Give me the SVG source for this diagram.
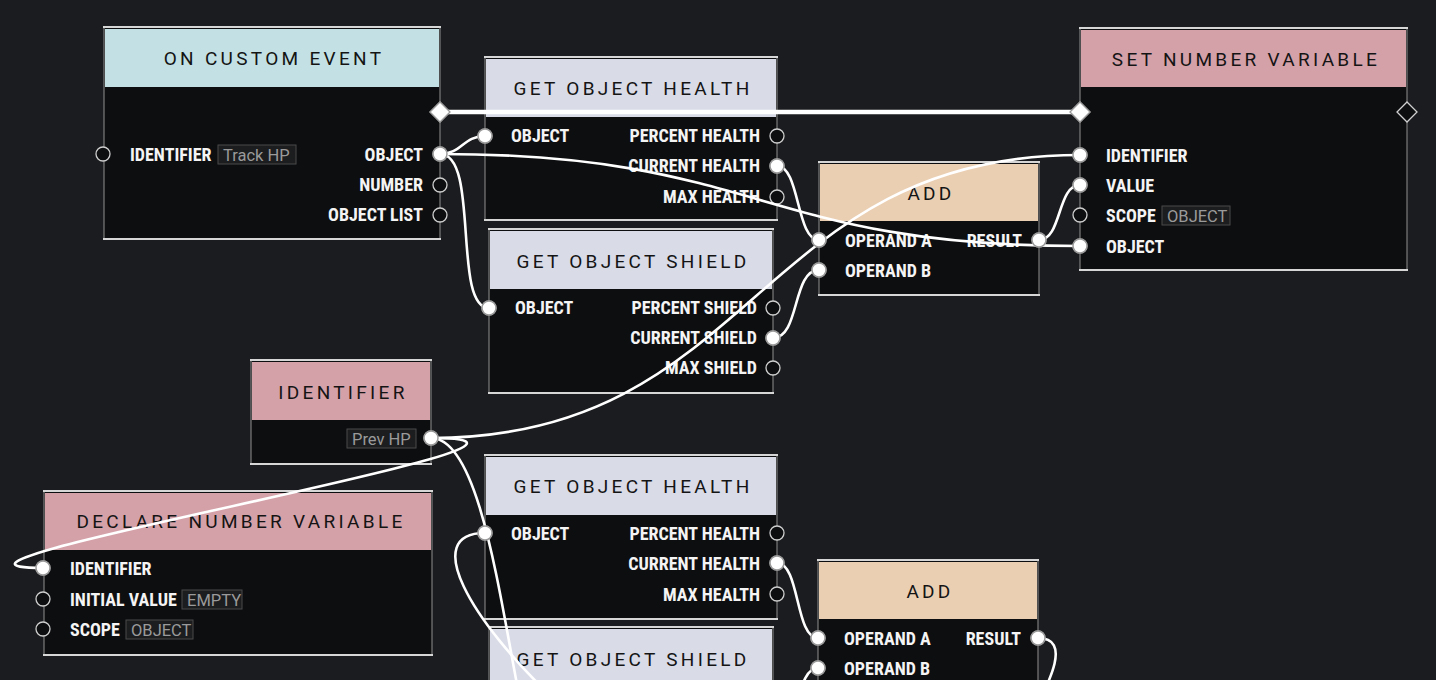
<svg xmlns="http://www.w3.org/2000/svg" width="1436" height="680" viewBox="0 0 1436 680">
<style>
.bg{fill:#1b1c1f}
.body{fill:#0d0e10;stroke:#7c7c7c;stroke-width:1.2}
.edge{stroke:#d6d6d6;stroke-width:2.2;fill:none}
.h-cyan{fill:#c3e1e4}
.h-lav{fill:#d9dbe7}
.h-peach{fill:#ebcfb3}
.h-pink{fill:#d4a1a9}
.title{font-family:"Roboto","Liberation Sans",sans-serif;font-weight:400;font-size:19px;letter-spacing:3.3px;fill:#141414;text-anchor:middle}
.lbl{font-family:"Liberation Sans Narrow","Roboto Condensed","Roboto",sans-serif;font-weight:700;font-size:18px;fill:#f4f4f4}
.r{text-anchor:end}
.val{font-family:"Liberation Sans Narrow","Roboto",sans-serif;font-size:16.5px;fill:#9a9a9a}
.vbox{fill:#1c1d1f;stroke:#4a4a4a;stroke-width:1}
.po{fill:#0d0e10;stroke:#cfcfcf;stroke-width:1.3}
.pf{fill:#ffffff;stroke:#9a9a9a;stroke-width:1.5}
.exo{fill:#0d0e10;stroke:#d0d0d0;stroke-width:1.3}
.exf{fill:#ffffff;stroke:#9a9a9a;stroke-width:1.3}
.wire{fill:none;stroke:#ffffff;stroke-width:2.6;stroke-linecap:round}
.wexec{fill:none;stroke:#ffffff;stroke-width:4.5}
</style>
<defs>
<path id="dia" d="M0,-10 L10,0 L0,10 L-10,0 Z"/>
</defs>
<rect class="bg" x="0" y="0" width="1436" height="680"/>

<g id="node-on-custom-event">
<rect class="body" x="104" y="27" width="336" height="212"/>
<rect class="h-cyan" x="105" y="29" width="334" height="58"/>
<path class="edge" d="M103,27 H441 M103,239 H441"/>
<text class="title" x="274" y="65">ON CUSTOM EVENT</text>
<use href="#dia" class="exf" x="440" y="112"/>
<circle class="po" cx="103" cy="154" r="7"/>
<text class="lbl" x="130" y="161">IDENTIFIER</text>
<rect class="vbox" x="218" y="145" width="78" height="19"/>
<text class="val" x="223" y="161">Track HP</text>
<text class="lbl r" x="423" y="161">OBJECT</text>
<text class="lbl r" x="423" y="191">NUMBER</text>
<text class="lbl r" x="423" y="221">OBJECT LIST</text>
<circle class="pf" cx="440" cy="154" r="7"/>
<circle class="po" cx="440" cy="185" r="7"/>
<circle class="po" cx="440" cy="215" r="7"/>
</g>

<g id="node-get-object-health-1">
<rect class="body" x="485" y="57" width="292" height="163"/>
<rect class="h-lav" x="486" y="59" width="290" height="58"/>
<path class="edge" d="M484,57 H778 M484,220 H778"/>
<text class="title" x="633" y="95">GET OBJECT HEALTH</text>
<text class="lbl" x="511" y="142">OBJECT</text>
<text class="lbl r" x="760" y="142">PERCENT HEALTH</text>
<text class="lbl r" x="760" y="172">CURRENT HEALTH</text>
<text class="lbl r" x="760" y="203">MAX HEALTH</text>
<circle class="pf" cx="485" cy="136" r="7"/>
<circle class="po" cx="777" cy="136" r="7"/>
<circle class="pf" cx="777" cy="166" r="7"/>
<circle class="po" cx="777" cy="197" r="7"/>
</g>

<g id="node-get-object-shield-1">
<rect class="body" x="489" y="229" width="284" height="164"/>
<rect class="h-lav" x="490" y="231" width="282" height="58"/>
<path class="edge" d="M488,229 H774 M488,393 H774"/>
<text class="title" x="633" y="268">GET OBJECT SHIELD</text>
<text class="lbl" x="515" y="314">OBJECT</text>
<text class="lbl r" x="757" y="314">PERCENT SHIELD</text>
<text class="lbl r" x="757" y="344">CURRENT SHIELD</text>
<text class="lbl r" x="757" y="374">MAX SHIELD</text>
<circle class="pf" cx="489" cy="308" r="7"/>
<circle class="po" cx="773" cy="308" r="7"/>
<circle class="pf" cx="773" cy="338" r="7"/>
<circle class="po" cx="773" cy="368" r="7"/>
</g>

<g id="node-add-1">
<rect class="body" x="819" y="162" width="220" height="133"/>
<rect class="h-peach" x="820" y="164" width="218" height="57"/>
<path class="edge" d="M818,162 H1040 M818,295 H1040"/>
<text class="title" x="931" y="200">ADD</text>
<text class="lbl" x="845" y="247">OPERAND A</text>
<text class="lbl" x="845" y="277">OPERAND B</text>
<text class="lbl r" x="1022" y="247">RESULT</text>
<circle class="pf" cx="819" cy="240" r="7"/>
<circle class="pf" cx="819" cy="270" r="7"/>
<circle class="pf" cx="1039" cy="240" r="7"/>
</g>

<g id="node-set-number-variable">
<rect class="body" x="1080" y="28" width="327" height="242"/>
<rect class="h-pink" x="1081" y="30" width="325" height="57"/>
<path class="edge" d="M1079,28 H1408 M1079,270 H1408"/>
<text class="title" x="1246" y="66">SET NUMBER VARIABLE</text>
<use href="#dia" class="exf" x="1080" y="112"/>
<use href="#dia" class="exo" x="1407" y="112"/>
<text class="lbl" x="1106" y="162">IDENTIFIER</text>
<text class="lbl" x="1106" y="192">VALUE</text>
<text class="lbl" x="1106" y="222">SCOPE</text>
<rect class="vbox" x="1162" y="206" width="68" height="19"/>
<text class="val" x="1167" y="222">OBJECT</text>
<text class="lbl" x="1106" y="253">OBJECT</text>
<circle class="pf" cx="1080" cy="155" r="7"/>
<circle class="pf" cx="1080" cy="185" r="7"/>
<circle class="po" cx="1080" cy="215" r="7"/>
<circle class="pf" cx="1080" cy="246" r="7"/>
</g>

<g id="node-identifier">
<rect class="body" x="251" y="360" width="180" height="104"/>
<rect class="h-pink" x="252" y="362" width="178" height="58"/>
<path class="edge" d="M250,360 H432 M250,464 H432"/>
<text class="title" x="343" y="399">IDENTIFIER</text>
<rect class="vbox" x="347" y="429" width="69" height="19"/>
<text class="val" x="352" y="445">Prev HP</text>
<circle class="pf" cx="431" cy="438" r="7"/>
</g>

<g id="node-declare-number-variable">
<rect class="body" x="44" y="491" width="388" height="164"/>
<rect class="h-pink" x="45" y="493" width="386" height="57"/>
<path class="edge" d="M43,491 H433 M43,655 H433"/>
<text class="title" x="241" y="528">DECLARE NUMBER VARIABLE</text>
<text class="lbl" x="70" y="575">IDENTIFIER</text>
<text class="lbl" x="70" y="606">INITIAL VALUE</text>
<rect class="vbox" x="182" y="590" width="60" height="19"/>
<text class="val" x="187" y="606">EMPTY</text>
<text class="lbl" x="70" y="636">SCOPE</text>
<rect class="vbox" x="126" y="620" width="67" height="19"/>
<text class="val" x="131" y="636">OBJECT</text>
<circle class="pf" cx="43" cy="568" r="7"/>
<circle class="po" cx="43" cy="599" r="7"/>
<circle class="po" cx="43" cy="629" r="7"/>
</g>

<g id="node-get-object-health-2">
<rect class="body" x="485" y="455" width="292" height="164"/>
<rect class="h-lav" x="486" y="457" width="290" height="58"/>
<path class="edge" d="M484,455 H778 M484,619 H778"/>
<text class="title" x="633" y="493">GET OBJECT HEALTH</text>
<text class="lbl" x="511" y="540">OBJECT</text>
<text class="lbl r" x="760" y="540">PERCENT HEALTH</text>
<text class="lbl r" x="760" y="570">CURRENT HEALTH</text>
<text class="lbl r" x="760" y="601">MAX HEALTH</text>
<circle class="pf" cx="485" cy="533" r="7"/>
<circle class="po" cx="777" cy="533" r="7"/>
<circle class="pf" cx="777" cy="563" r="7"/>
<circle class="po" cx="777" cy="594" r="7"/>
</g>

<g id="node-get-object-shield-2">
<rect class="body" x="489" y="627" width="284" height="120"/>
<rect class="h-lav" x="490" y="629" width="282" height="58"/>
<path class="edge" d="M488,627 H774"/>
<text class="title" x="633" y="666">GET OBJECT SHIELD</text>
</g>

<g id="node-add-2">
<rect class="body" x="818" y="560" width="220" height="140"/>
<rect class="h-peach" x="819" y="562" width="218" height="57"/>
<path class="edge" d="M817,560 H1039"/>
<text class="title" x="930" y="598">ADD</text>
<text class="lbl" x="844" y="645">OPERAND A</text>
<text class="lbl" x="844" y="675">OPERAND B</text>
<text class="lbl r" x="1021" y="645">RESULT</text>
<circle class="pf" cx="818" cy="638" r="7"/>
<circle class="pf" cx="818" cy="668" r="7"/>
<circle class="pf" cx="1038" cy="638" r="7"/>
</g>

<g id="connectors">
<path class="wexec" d="M448,112 H1072"/>
<path class="wire" d="M440,154 C462,154 463,136 485,136"/>
<path class="wire" d="M440,154 C480,154 452,308 489,308"/>
<path class="wire" d="M440,154 C760,154 760,246 1080,246"/>
<path class="wire" d="M777,166 C800,166 796,240 819,240"/>
<path class="wire" d="M773,338 C800,338 792,270 819,270"/>
<path class="wire" d="M1039,240 C1062,240 1057,185 1080,185"/>
<path class="wire" d="M431,438 C755,438 756,155 1080,155"/>
<path class="wire" d="M431,438 C640,438 -140,568 43,568"/>
<path class="wire" d="M431,438 C480,438 500,600 520,700"/>
<path class="wire" d="M485,533 C420,533 470,620 555,700"/>
<path class="wire" d="M777,563 C800,563 795,638 818,638"/>
<path class="wire" d="M773,736 C800,736 795,668 818,668"/>
<path class="wire" d="M1038,638 C1075,638 1045,690 1030,720"/>
<g fill="#ffffff" stroke="#9a9a9a" stroke-width="1.5">
<circle cx="440" cy="154" r="7"/><circle cx="485" cy="136" r="7"/><circle cx="489" cy="308" r="7"/>
<circle cx="1080" cy="246" r="7"/><circle cx="777" cy="166" r="7"/><circle cx="819" cy="240" r="7"/>
<circle cx="773" cy="338" r="7"/><circle cx="819" cy="270" r="7"/><circle cx="1039" cy="240" r="7"/>
<circle cx="1080" cy="185" r="7"/><circle cx="431" cy="438" r="7"/><circle cx="1080" cy="155" r="7"/>
<circle cx="43" cy="568" r="7"/><circle cx="485" cy="533" r="7"/><circle cx="777" cy="563" r="7"/>
<circle cx="818" cy="638" r="7"/><circle cx="818" cy="668" r="7"/><circle cx="1038" cy="638" r="7"/>
</g>
<use href="#dia" class="exf" x="440" y="112"/>
<use href="#dia" class="exf" x="1080" y="112"/>
</g>
</svg>
